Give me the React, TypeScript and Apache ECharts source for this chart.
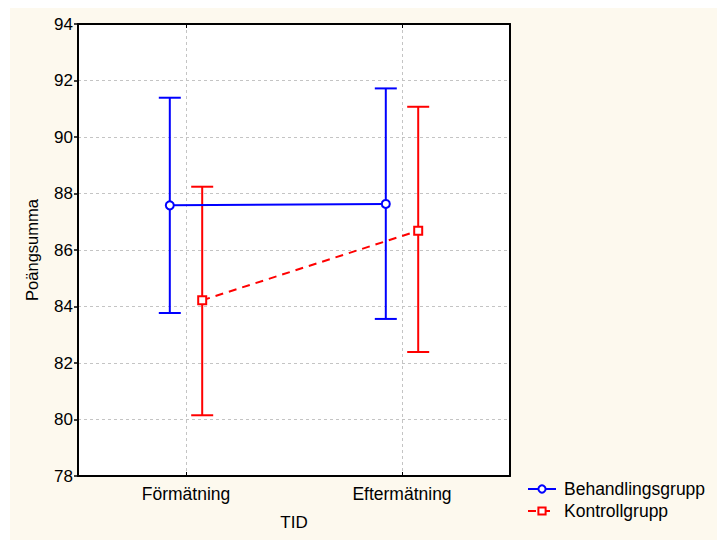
import React, { useEffect, useRef } from "react";
import * as echarts from "echarts";

// Measurement occasions and group results (mean with confidence interval)
const categories = ["Förmätning", "Eftermätning"];
const yTicks = { min: 78, max: 94, step: 2 };

const behandlingMean = [87.58, 87.63];
const behandlingLow = [83.77, 83.56];
const behandlingHigh = [91.39, 91.72];

const kontrollMean = [84.22, 86.68];
const kontrollLow = [80.15, 82.39];
const kontrollHigh = [88.24, 91.07];

// Horizontal dodge of the two groups around each category (in axis units)
const DODGE = 0.15;

const BLUE = "#0000ff";
const RED = "#ff0000";

export default function App() {
  const ref = useRef<HTMLDivElement>(null);

  useEffect(() => {
    if (!ref.current) return;
    const chart = echarts.init(ref.current, undefined, { renderer: "svg" });

    // Category slots 1 and 3 on a 0..4 scale hold the two occasions
    const slotLabels = ["", categories[0], "", categories[1], ""];
    const isCat = (i: number) => i === 1 || i === 3;
    const catPos = (i: number) => 1 + i * 2;

    const pts = (means: number[], off: number) =>
      means.map((m, i) => [catPos(i) + off, m]);
    const bars = (lo: number[], hi: number[], off: number) =>
      lo.map((l, i) => [catPos(i) + off, l, hi[i]]);

    const errorBar = (color: string) => (params: any, api: any) => {
      const x = api.value(0);
      const lo = api.coord([x, api.value(1)]);
      const hi = api.coord([x, api.value(2)]);
      const hw = 11;
      const style = { stroke: color, lineWidth: 2 };
      return {
        type: "group",
        children: [
          { type: "line", shape: { x1: lo[0], y1: lo[1], x2: hi[0], y2: hi[1] }, style },
          { type: "line", shape: { x1: hi[0] - hw, y1: hi[1], x2: hi[0] + hw, y2: hi[1] }, style },
          { type: "line", shape: { x1: lo[0] - hw, y1: lo[1], x2: lo[0] + hw, y2: lo[1] }, style },
        ],
      };
    };

    const frame = { lineStyle: { color: "#000", width: 2 } };
    const dashed = { lineStyle: { color: "#c4c4c4", width: 1, type: [3, 3] } };

    chart.setOption({
      animation: false,
      backgroundColor: "#fdf9ee",
      textStyle: { fontFamily: "Liberation Sans, Arial, sans-serif" },
      grid: { left: 68, top: 16, width: 432, height: 452, show: true, backgroundColor: "#ffffff", borderWidth: 0 },
      legend: {
        left: 512,
        top: 467,
        orient: "vertical",
        itemWidth: 28,
        itemHeight: 9,
        itemGap: 4,
        textStyle: { fontSize: 17.5, color: "#000", padding: [0, 0, 0, 3] },
        data: ["Behandlingsgrupp", "Kontrollgrupp"],
      },
      xAxis: [
        {
          type: "category",
          data: slotLabels,
          boundaryGap: false,
          position: "bottom",
          axisLine: frame,
          axisTick: { inside: true, length: 4, interval: (i: number) => isCat(i), lineStyle: { color: "#000" } },
          axisLabel: { interval: (i: number) => isCat(i), fontSize: 17.5, color: "#000", margin: 9 },
          splitLine: { show: true, interval: (i: number) => isCat(i), ...dashed },
          name: "TID",
          nameLocation: "middle",
          nameGap: 38,
          nameTextStyle: { fontSize: 17, color: "#000" },
        },
        {
          type: "category",
          data: slotLabels,
          boundaryGap: false,
          position: "top",
          axisLine: frame,
          axisTick: { inside: true, length: 4, interval: (i: number) => isCat(i), lineStyle: { color: "#000" } },
          axisLabel: { show: false },
          splitLine: { show: false },
        },
        { type: "value", min: 0, max: 4, show: false },
      ],
      yAxis: [
        {
          type: "value",
          min: yTicks.min,
          max: yTicks.max,
          interval: yTicks.step,
          position: "left",
          axisLine: { show: true, ...frame },
          axisTick: { show: true, length: 4, lineStyle: { color: "#000", width: 1.5 } },
          axisLabel: { fontSize: 17, color: "#000", margin: 5 },
          splitLine: { show: true, ...dashed },
          name: "Poängsumma",
          nameLocation: "middle",
          nameGap: 38,
          nameTextStyle: { fontSize: 16.5, color: "#000" },
        },
        {
          type: "value",
          min: yTicks.min,
          max: yTicks.max,
          interval: yTicks.step,
          position: "right",
          axisLine: { show: true, ...frame },
          axisTick: { show: false },
          axisLabel: { show: false },
          splitLine: { show: false },
        },
      ],
      series: [
        {
          type: "custom",
          name: "Behandlingsgrupp CI",
          xAxisIndex: 2,
          yAxisIndex: 0,
          renderItem: errorBar(BLUE),
          encode: { x: 0, y: [1, 2] },
          data: bars(behandlingLow, behandlingHigh, -DODGE),
          z: 2,
        },
        {
          type: "custom",
          name: "Kontrollgrupp CI",
          xAxisIndex: 2,
          yAxisIndex: 0,
          renderItem: errorBar(RED),
          encode: { x: 0, y: [1, 2] },
          data: bars(kontrollLow, kontrollHigh, DODGE),
          z: 2,
        },
        {
          type: "line",
          name: "Behandlingsgrupp",
          xAxisIndex: 2,
          yAxisIndex: 0,
          data: pts(behandlingMean, -DODGE),
          symbol: "circle",
          symbolSize: 8,
          color: BLUE,
          lineStyle: { color: BLUE, width: 2 },
          itemStyle: { color: "#ffffff", borderColor: BLUE, borderWidth: 2 },
          z: 3,
        },
        {
          type: "line",
          name: "Kontrollgrupp",
          xAxisIndex: 2,
          yAxisIndex: 0,
          data: pts(kontrollMean, DODGE),
          symbol: "rect",
          symbolSize: 8,
          color: RED,
          lineStyle: { color: RED, width: 2, type: [8, 6] },
          itemStyle: { color: "#ffffff", borderColor: RED, borderWidth: 2 },
          z: 3,
        },
      ],
    });

    return () => chart.dispose();
  }, []);

  return (
    <div
      ref={ref}
      style={{ position: "absolute", left: 10, top: 8, width: 707, height: 532 }}
    />
  );
}
